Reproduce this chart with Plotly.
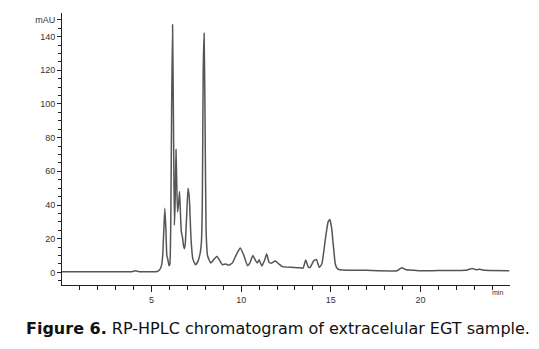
import plotly.graph_objects as go

# retention time (min) and detector signal (mAU)
time_min = [0, 2.5, 3.9, 4.1, 4.3, 5.3, 5.45, 5.55, 5.62, 5.68, 5.74, 5.80, 5.85, 5.9, 5.97,
            6.02, 6.07, 6.12, 6.17, 6.22, 6.27, 6.31, 6.36, 6.41, 6.45, 6.50, 6.56, 6.61,
            6.66, 6.72, 6.78, 6.83, 6.88, 6.95, 7.03, 7.10, 7.2, 7.3, 7.45, 7.6, 7.72,
            7.78, 7.83, 7.88, 7.93, 7.98, 8.04, 8.12, 8.3, 8.5, 8.65, 8.8, 8.95, 9.15,
            9.3, 9.5, 9.75, 9.95, 10.15, 10.35, 10.5, 10.65, 10.8, 10.9, 11.0, 11.15,
            11.3, 11.42, 11.55, 11.7, 11.9, 12.1, 12.3, 12.8, 13.2, 13.45, 13.6, 13.75,
            13.85, 14.05, 14.2, 14.35, 14.5, 14.7, 14.85, 14.95, 15.05, 15.15, 15.25,
            15.35, 15.5, 16, 17, 18.7, 18.95, 19.2, 19.5, 20, 21, 22.5, 22.9, 23.1, 23.3,
            23.6, 24.96]
signal_mau = [0.4, 0.4, 0.4, 1.0, 0.4, 0.5, 1.5, 4, 10, 25, 38, 25, 10, 8, 4,
              5, 30, 100, 147, 90, 28, 40, 73, 50, 36, 40, 48, 35,
              24, 21, 16, 14, 17, 32, 50, 45, 20, 8, 4.5, 7, 12,
              18, 40, 120, 142, 95, 25, 10, 5.5, 8, 9.5, 7, 4.5, 5,
              4.2, 5.5, 11, 14.5, 10, 4, 6, 10, 7, 5.5, 7.5, 3.8,
              7, 11, 6, 5.5, 6.7, 5, 3.4, 3, 2.8, 2.5, 7.3, 3,
              3, 7, 7.7, 3, 5, 20, 30, 31.4, 26, 15, 5,
              2.5, 1.5, 1.3, 1.2, 1.0, 2.8, 1.5, 1.3, 0.9, 1.1, 1.2, 2.3, 1.6, 1.9,
              1.2, 1.0]

x_tick_vals = [5, 10, 15, 20]
x_tick_text = ["5", "10", "15", "20"]
y_tick_vals = [0, 20, 40, 60, 80, 100, 120, 140, 150]
y_tick_text = ["0", "20", "40", "60", "80", "100", "120", "140", "mAU"]
caption = "<b>Figure 6.</b> RP-HPLC chromatogram of extracelular EGT sample."

W, H = 539, 349
L, R, T, B = 62, 29, 13, 64
pw, ph = W - L - R, H - T - B

def px(xp):
    return (xp - L) / pw

def py(yp):
    return (H - B - yp) / ph

fig = go.Figure()
fig.add_trace(go.Scatter(x=time_min, y=signal_mau, mode="lines",
                         line=dict(color="#555555", width=1.5, shape="spline", smoothing=0.4),
                         hoverinfo="skip", showlegend=False))

tick_font = dict(family="Liberation Sans, Arial", size=9, color="#333333")
fig.update_layout(
    width=W, height=H, margin=dict(l=L, r=R, t=T, b=B, pad=0),
    paper_bgcolor="white", plot_bgcolor="white",
    xaxis=dict(range=[0, 25], showgrid=False, zeroline=False, showline=True,
               linecolor="#222222", linewidth=1, ticks="outside", ticklen=6,
               tickcolor="#222222", tickmode="array", tickvals=x_tick_vals,
               ticktext=x_tick_text, tickfont=tick_font,
               minor=dict(tickmode="array", tickvals=[1, 2, 3, 4, 6, 7, 8, 9, 11, 12, 13, 14,
                                                       16, 17, 18, 19, 21, 22, 23, 24],
                          ticks="outside", ticklen=4, tickcolor="#222222")),
    yaxis=dict(range=[-7.5, 154], showgrid=False, zeroline=False, showline=True,
               linecolor="#222222", linewidth=1, ticks="outside", ticklen=4,
               tickcolor="#222222", tickmode="array", tickvals=y_tick_vals,
               ticktext=y_tick_text, tickfont=tick_font,
               minor=dict(tickmode="array",
                          tickvals=[-5, 5, 10, 15, 25, 30, 35, 45, 50, 55, 65, 70, 75, 85, 90, 95,
                                    105, 110, 115, 125, 130, 135, 145],
                          ticks="outside", ticklen=3, tickcolor="#222222")),
)

fig.add_annotation(text="min", xref="paper", yref="paper", x=px(505), y=py(298),
                   showarrow=False, font=dict(family="Liberation Sans, Arial", size=7, color="#333333"))
fig.add_annotation(text=caption, xref="paper", yref="paper", x=px(24), y=py(328),
                   xanchor="left", yanchor="middle", showarrow=False,
                   font=dict(family="DejaVu Sans", size=16, color="#111111"))

fig.write_html("out.html")
